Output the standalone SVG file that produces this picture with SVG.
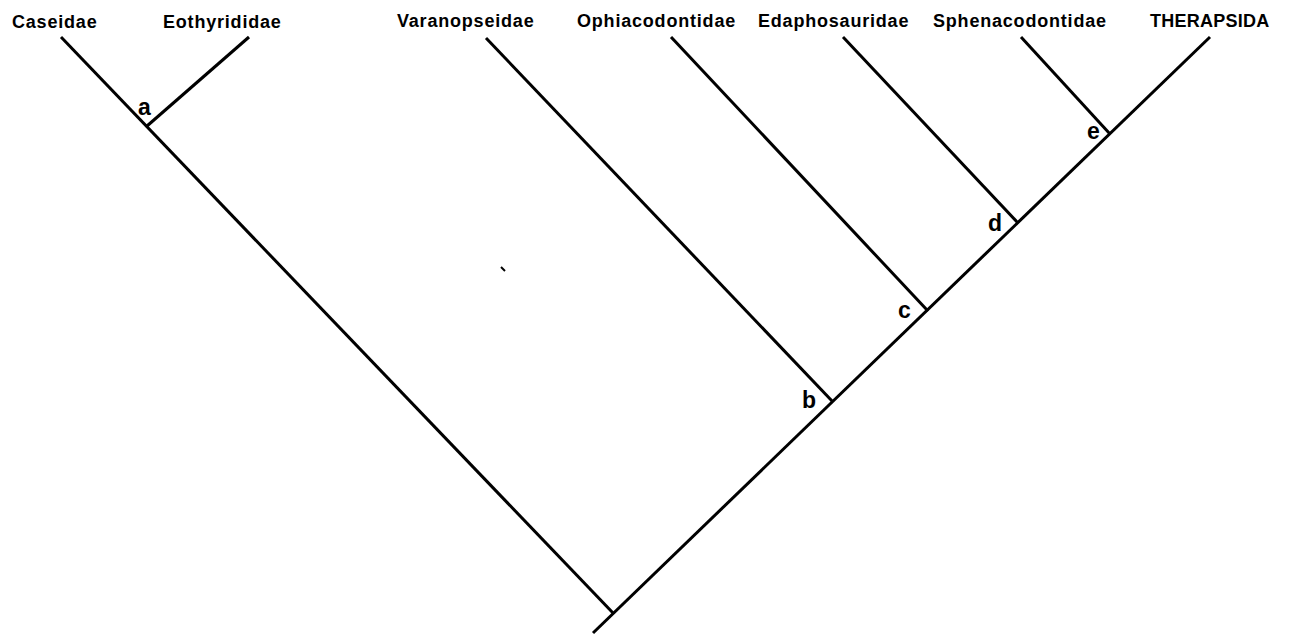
<svg xmlns="http://www.w3.org/2000/svg" width="1292" height="637" viewBox="0 0 1292 637">
<style>
.lbl{font-family:"Liberation Sans",Arial,sans-serif;font-weight:bold;font-size:18px;fill:#000;letter-spacing:0.8px}
.nd{font-family:"Liberation Sans",Arial,sans-serif;font-weight:bold;font-size:23px;fill:#000}
.br{stroke:#000;stroke-width:3;fill:none;stroke-linecap:butt}
</style>
<rect width="1292" height="637" fill="#fff"/>
<g id="connectors">
<line class="br" x1="61" y1="37" x2="614" y2="614"/>
<line class="br" x1="249" y1="37" x2="147" y2="126"/>
<line class="br" x1="1210" y1="37" x2="593" y2="633"/>
<line class="br" x1="486" y1="38" x2="833" y2="402"/>
<line class="br" x1="671" y1="37" x2="928" y2="311"/>
<line class="br" x1="843" y1="37" x2="1018" y2="223"/>
<line class="br" x1="1021" y1="37" x2="1110" y2="134"/>
<line x1="501" y1="267" x2="505" y2="271" stroke="#000" stroke-width="2"/>
</g>
<g id="taxon-caseidae"><text class="lbl" x="12" y="28">Caseidae</text></g>
<g id="taxon-eothyrididae"><text class="lbl" x="163" y="28">Eothyrididae</text></g>
<g id="taxon-varanopseidae"><text class="lbl" x="397" y="27">Varanopseidae</text></g>
<g id="taxon-ophiacodontidae"><text class="lbl" x="577" y="27">Ophiacodontidae</text></g>
<g id="taxon-edaphosauridae"><text class="lbl" x="758" y="27">Edaphosauridae</text></g>
<g id="taxon-sphenacodontidae"><text class="lbl" x="933" y="27">Sphenacodontidae</text></g>
<g id="taxon-therapsida"><text class="lbl" x="1150" y="27" textLength="120">THERAPSIDA</text></g>
<g id="node-a"><text class="nd" x="138" y="115">a</text></g>
<g id="node-b"><text class="nd" x="802" y="408">b</text></g>
<g id="node-c"><text class="nd" x="898" y="318">c</text></g>
<g id="node-d"><text class="nd" x="988" y="231">d</text></g>
<g id="node-e"><text class="nd" x="1087" y="139">e</text></g>
</svg>
